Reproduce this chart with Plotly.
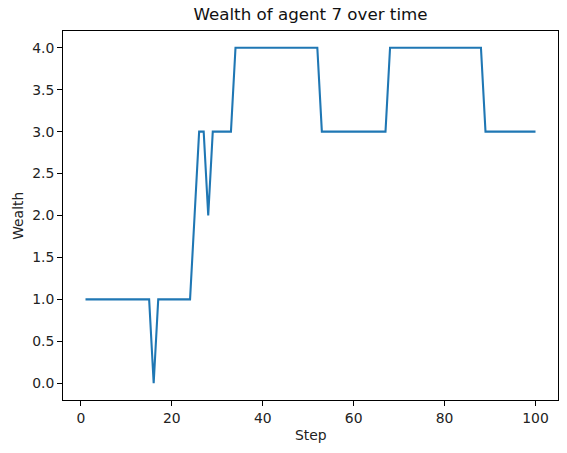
import plotly.graph_objects as go

steps = list(range(1, 101))
wealth = ([1] * 15 + [0] + [1] * 8 + [2] + [3, 3] + [2] + [3] * 5
          + [4] * 19 + [3] * 15 + [4] * 21 + [3] * 12)

x_ticks = [0, 20, 40, 60, 80, 100]
y_ticks = [0.0, 0.5, 1.0, 1.5, 2.0, 2.5, 3.0, 3.5, 4.0]
y_tick_labels = [f"{v:.1f}" for v in y_ticks]

font = "DejaVu Sans"

fig = go.Figure()
fig.add_trace(go.Scatter(x=steps, y=wealth, mode="lines",
                         line=dict(color="#1f77b4", width=2.08),
                         showlegend=False))

axis_common = dict(showline=True, linecolor="black", linewidth=1.1, mirror=True,
                   ticks="outside", ticklen=4.9, tickwidth=1.1, tickcolor="black",
                   showgrid=False, zeroline=False,
                   tickfont=dict(family=font, size=13.9, color="#222"))

fig.update_layout(
    width=567, height=453,
    margin=dict(l=63, r=9, t=30.5, b=53),
    plot_bgcolor="white", paper_bgcolor="white",
    xaxis=dict(range=[-3.95, 104.95], tickvals=x_ticks, **axis_common),
    yaxis=dict(range=[-0.2, 4.2], tickvals=y_ticks, ticktext=y_tick_labels, **axis_common),
    title=dict(text="Wealth of agent 7 over time", x=0.5, xref="paper",
               y=1 - 14 / 453, yref="container", yanchor="middle", xanchor="center",
               font=dict(family=font, size=16.7, color="#111")),
    annotations=[
        dict(text="Step", xref="paper", yref="paper", x=0.5, y=-(435 - 400) / 369.5,
             yanchor="middle", xanchor="center", showarrow=False,
             font=dict(family=font, size=13.9, color="#222")),
        dict(text="Wealth", xref="paper", yref="paper", x=-(62.7 - 17) / 495.5, y=0.5,
             yanchor="middle", xanchor="center", showarrow=False, textangle=-90,
             font=dict(family=font, size=13.9, color="#222")),
    ],
)

fig.write_html("out.html")
